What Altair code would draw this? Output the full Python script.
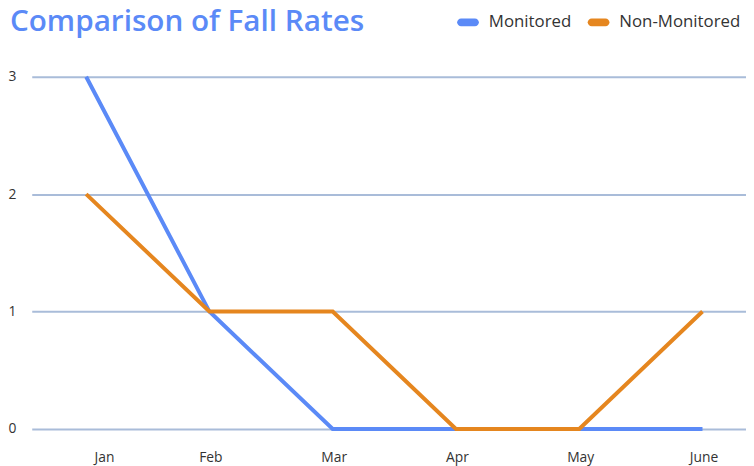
import altair as alt
import pandas as pd

months = ["Jan", "Feb", "Mar", "Apr", "May", "June"]
monitored = [3, 1, 0, 0, 0, 0]
non_monitored = [2, 1, 1, 0, 0, 1]
series = ["Monitored", "Non-Monitored"]
colors = ["#5b8af7", "#e5861f"]

rows = []
for i, (m, a, b) in enumerate(zip(months, monitored, non_monitored)):
    rows.append({"idx": i, "month": m, "series": series[0], "value": a})
    rows.append({"idx": i, "month": m, "series": series[1], "value": b})
df = pd.DataFrame(rows)

FONT = "Open Sans"
pill = "M-0.636,-0.364 L0.636,-0.364 A0.364,0.364 0 0 1 0.636,0.364 L-0.636,0.364 A0.364,0.364 0 0 1 -0.636,-0.364 Z"
label_expr = "[" + ",".join("'%s'" % m for m in months) + "][datum.value]"

x_enc = alt.X(
    "idx:Q",
    scale=alt.Scale(domain=[-0.4414, 5.353], nice=False, zero=False),
    axis=alt.Axis(
        title=None, domain=False, ticks=False, grid=False,
        values=list(range(len(months))), labelExpr=label_expr,
        labelPadding=22, labelFont=FONT, labelFontSize=14,
        labelColor="#333333", labelAngle=0,
        labelOffset=alt.ExprRef("datum.value == 0 ? 18 : 1"),
    ),
)
y_enc = alt.Y(
    "value:Q",
    scale=alt.Scale(domain=[0, 3], nice=False),
    axis=alt.Axis(
        title=None, domain=False, ticks=False, values=[0, 1, 2, 3],
        labelPadding=16, labelFont=FONT, labelFontSize=14,
        labelColor="#333333", gridColor="#a9bcd9", gridWidth=2,
    ),
)
legend = alt.Legend(
    title=None, orient="none", direction="horizontal",
    legendX=430, legendY=-66, symbolType=pill, symbolSize=484,
    symbolStrokeWidth=0, symbolOpacity=1,
    labelFont=FONT, labelFontSize=17, labelColor="#333333",
    labelOffset=10, columnPadding=16, padding=0,
)
color_enc = alt.Color("series:N", scale=alt.Scale(domain=series, range=colors), legend=legend)

base = alt.Chart(df)

lines = base.mark_line(strokeWidth=4, strokeJoin="miter").encode(
    x=x_enc, y=y_enc, color=color_enc,
)
legend_pts = base.mark_circle(size=0, opacity=0).encode(
    x=x_enc, y=y_enc, color=color_enc,
)

chart = (
    alt.layer(lines, legend_pts)
    .properties(
        width=722,
        height=356,
        autosize=alt.AutoSizeParams(type="none"),
        padding={"left": 24, "top": 67, "right": 0, "bottom": 40},
        title=alt.TitleParams(
            "Comparison of Fall Rates", anchor="start", font=FONT,
            fontSize=30, fontWeight=600, color="#5b8af7", dx=2, offset=0,
            dy=26,
        ),
    )
    .configure_view(stroke=None)
)

chart.save("out.html", embed_options={"renderer": "svg", "actions": False})
